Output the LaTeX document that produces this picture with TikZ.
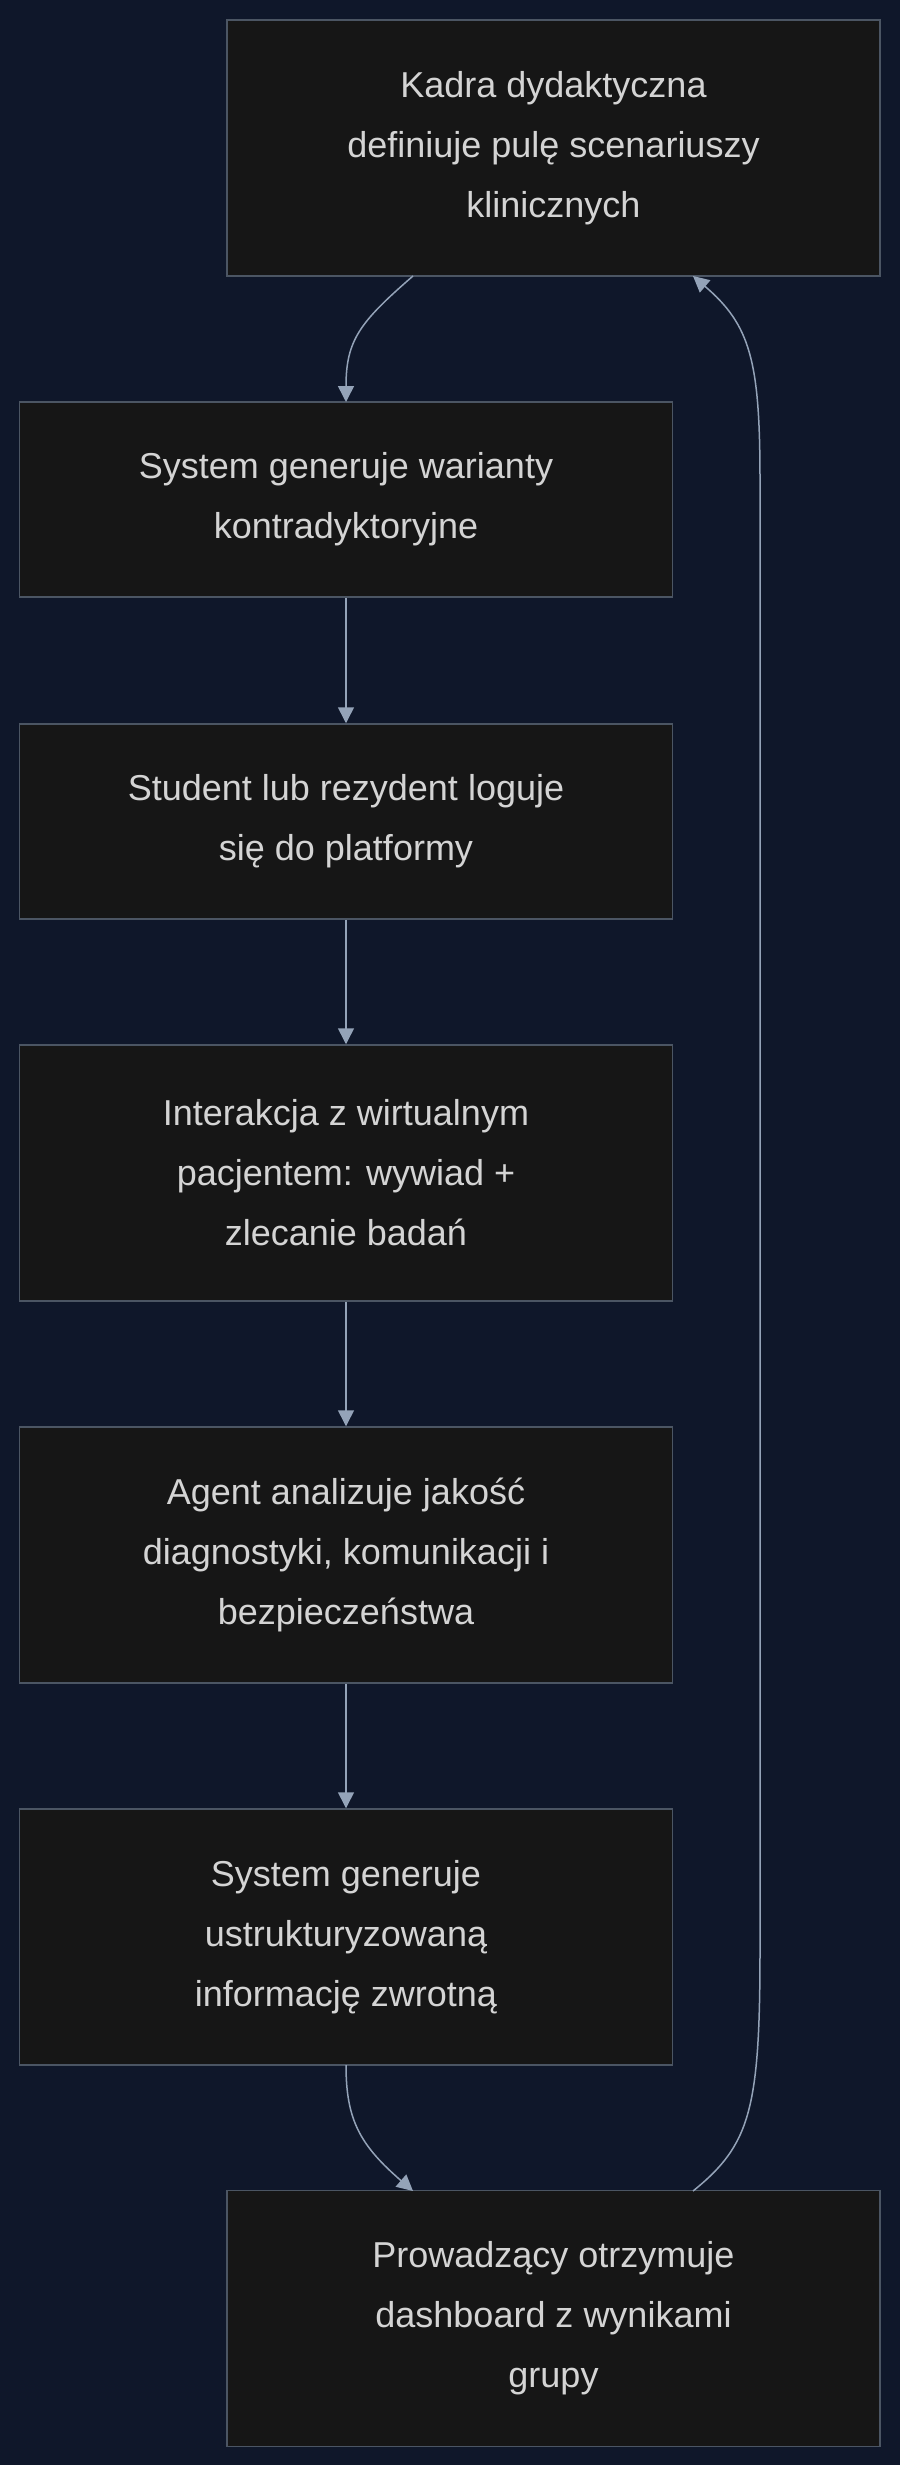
\documentclass[tikz,border=0pt]{standalone}
\usepackage{fontspec}
\setmainfont{Liberation Sans}
\usetikzlibrary{arrows.meta}
\definecolor{bg}{HTML}{0F172A}
\definecolor{boxf}{HTML}{161616}
\definecolor{boxd}{HTML}{4B5563}
\definecolor{txt}{HTML}{D4D4D4}
\definecolor{edge}{HTML}{94A3B8}
\begin{document}
\begin{tikzpicture}[x=1pt,y=-1pt,
  box/.style={draw=boxd,fill=boxf,line width=1.5pt,minimum width=653pt,align=center,text=txt,font=\fontsize{36}{60}\selectfont,inner sep=0pt},
  arr/.style={draw=edge,line width=1.5pt,-{Triangle[length=16pt,width=16pt]}}]
\fill[bg] (0,0) rectangle (900,2465);
\useasboundingbox (0,0) rectangle (900,2465);
\node[box,minimum height=256pt] (a) at (553.5,148) {Kadra dydaktyczna\\definiuje pulę scenariuszy\\klinicznych};
\node[box,minimum height=195pt] (b) at (346,499.5) {System generuje warianty\\kontradyktoryjne};
\node[box,minimum height=195pt] (c) at (346,821.5) {Student lub rezydent loguje\\się do platformy};
\node[box,minimum height=256pt] (d) at (346,1173) {Interakcja z wirtualnym\\pacjentem: wywiad +\\zlecanie badań};
\node[box,minimum height=256pt] (e) at (346,1555) {Agent analizuje jakość\\diagnostyki, komunikacji i\\bezpieczeństwa};
\node[box,minimum height=256pt] (f) at (346,1937) {System generuje\\ustrukturyzowaną\\informację zwrotną};
\node[box,minimum height=256pt] (g) at (553.5,2318.5) {Prowadzący otrzymuje\\dashboard z wynikami\\grupy};
\coordinate (a1) at (413,276);
\coordinate (b1) at (346,402);
\draw[arr] (a1) .. controls (360,322) and (346,340) .. (b1);
\draw[arr] (b.south) -- (c.north);
\draw[arr] (c.south) -- (d.north);
\draw[arr] (d.south) -- (e.north);
\draw[arr] (e.south) -- (f.north);
\coordinate (f1) at (346,2065);
\coordinate (g1) at (413,2191);
\draw[arr] (f1) .. controls (346,2120) and (360,2145) .. (g1);
\coordinate (g2) at (693,2191);
\coordinate (a2) at (693,276);
\draw[arr] (g2) .. controls (750,2145) and (760,2110) .. (760,1950) -- (760,480) .. controls (760,360) and (750,325) .. (a2);
\end{tikzpicture}
\end{document}
